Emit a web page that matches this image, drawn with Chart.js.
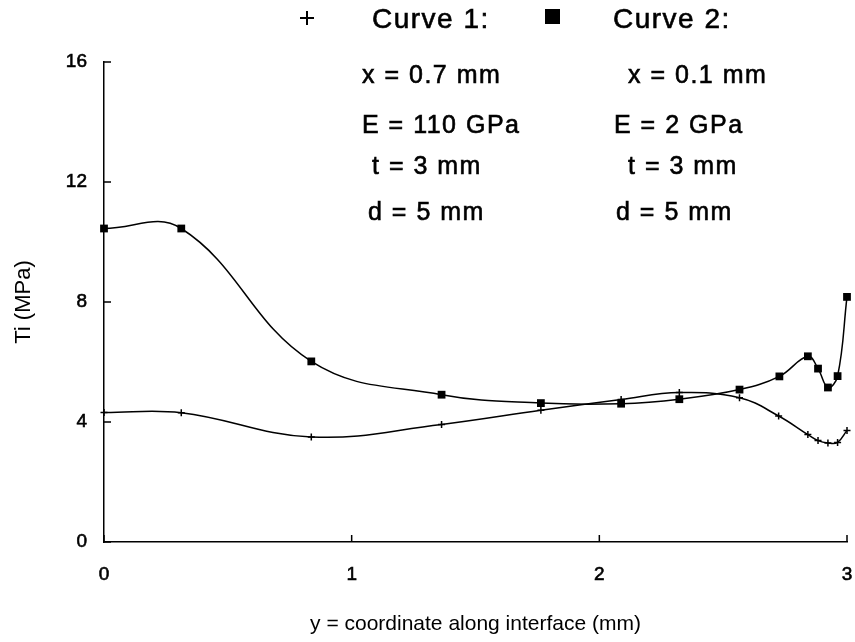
<!DOCTYPE html>
<html>
<head>
<meta charset="utf-8">
<script src="https://cdn.jsdelivr.net/npm/chart.js@4/dist/chart.umd.min.js"></script>
<style>
    body { margin: 0; background: #fff; }
    #wrap { position: relative; width: 855px; height: 642px; font-family: "Liberation Sans", Arial, sans-serif; color: #000; }
    #chart { position: absolute; left: 0; top: 0; }
    .txt { position: absolute; line-height: 1; white-space: nowrap; -webkit-text-stroke: 0.6px #000; }
    .head { font-size: 28px; letter-spacing: 1.5px; }
    .param { font-size: 25px; letter-spacing: 1.5px; }
    .plus-h { position: absolute; left: 300px; top: 17px; width: 14px; height: 1.5px; background: #000; }
    .plus-v { position: absolute; left: 306px; top: 11px; width: 1.5px; height: 14px; background: #000; }
    .sq { position: absolute; left: 545px; top: 9px; width: 15px; height: 15px; background: #000; }
</style>
</head>
<body>
<div id="wrap">
    <canvas id="chart" width="855" height="642"></canvas>
    <div class="plus-h"></div><div class="plus-v"></div>
    <div class="txt head" style="left:372px; top:5px;">Curve 1:</div>
    <div class="sq"></div>
    <div class="txt head" style="left:613px; top:5px;">Curve 2:</div>

    <div class="txt param" style="left:362px; top:62px;">x = 0.7 mm</div>
    <div class="txt param" style="left:362px; top:112px;">E = 110 GPa</div>
    <div class="txt param" style="left:372px; top:153px;">t = 3 mm</div>
    <div class="txt param" style="left:368px; top:199px;">d = 5 mm</div>

    <div class="txt param" style="left:628px; top:62px;">x = 0.1 mm</div>
    <div class="txt param" style="left:614px; top:112px;">E = 2 GPa</div>
    <div class="txt param" style="left:628px; top:153px;">t = 3 mm</div>
    <div class="txt param" style="left:616px; top:199px;">d = 5 mm</div>
</div>
<script>
// values
const curve1X = [0, 0.312, 0.837, 1.363, 1.764, 2.088, 2.323, 2.566, 2.724, 2.842, 2.883, 2.923, 2.962, 3.0];
const curve1Y = [4.32, 4.31, 3.5, 3.92, 4.39, 4.75, 4.98, 4.81, 4.2, 3.58, 3.38, 3.3, 3.32, 3.72];

const curve2X = [0, 0.312, 0.837, 1.363, 1.764, 2.088, 2.323, 2.566, 2.727, 2.842, 2.883, 2.923, 2.962, 3.0];
const curve2Y = [10.45, 10.45, 6.02, 4.91, 4.63, 4.61, 4.76, 5.08, 5.52, 6.19, 5.78, 5.15, 5.53, 8.17];

const xTicks = [0, 1, 2, 3];
const yTicks = [0, 4, 8, 12, 16];

const fontFamily = '"Liberation Sans", Arial, sans-serif';

function toPoints(xs, ys) {
    return xs.map((x, i) => ({ x: x, y: ys[i] }));
}

// small tick marks pointing into the plot
const innerTicks = {
    id: 'innerTicks',
    afterDraw(chart) {
        const ctx = chart.ctx;
        const xs = chart.scales.x;
        const ys = chart.scales.y;
        const area = chart.chartArea;
        ctx.save();
        ctx.strokeStyle = '#000';
        ctx.lineWidth = 1.5;
        ctx.beginPath();
        yTicks.forEach(v => {
            const py = ys.getPixelForValue(v);
            ctx.moveTo(area.left, py);
            ctx.lineTo(area.left + 7, py);
        });
        xTicks.forEach(v => {
            const px = xs.getPixelForValue(v);
            ctx.moveTo(px, area.bottom);
            ctx.lineTo(px, area.bottom - 7);
        });
        ctx.stroke();
        ctx.restore();
    }
};

new Chart(document.getElementById('chart').getContext('2d'), {
    type: 'line',
    data: {
        datasets: [
            {
                label: 'Curve 1',
                data: toPoints(curve1X, curve1Y),
                borderColor: '#000',
                borderWidth: 1.5,
                tension: 0.4,
                pointStyle: 'cross',
                pointRadius: 3.5,
                pointBorderWidth: 1.5,
                pointBorderColor: '#000',
                clip: false
            },
            {
                label: 'Curve 2',
                data: toPoints(curve2X, curve2Y),
                borderColor: '#000',
                borderWidth: 1.5,
                tension: 0.4,
                pointStyle: 'rect',
                pointRadius: 5.5,
                pointBackgroundColor: '#000',
                pointBorderColor: '#000',
                pointBorderWidth: 0,
                clip: false
            }
        ]
    },
    options: {
        responsive: false,
        animation: false,
        devicePixelRatio: 1,
        layout: { autoPadding: false, padding: { top: 62, right: 8, left: 0, bottom: 0 } },
        plugins: {
            legend: { display: false },
            tooltip: { enabled: false }
        },
        scales: {
            x: {
                type: 'linear',
                min: 0,
                max: 3,
                afterBuildTicks: s => { s.ticks = xTicks.map(v => ({ value: v })); },
                afterFit: s => { s.height = 100; s.paddingLeft = 0; s.paddingRight = 0; },
                grid: { display: true, drawOnChartArea: false, drawTicks: false },
                border: { color: '#000', width: 1.5 },
                ticks: {
                    color: '#000', padding: 21, maxRotation: 0,
                    textStrokeColor: '#000', textStrokeWidth: 0.6,
                    font: { family: fontFamily, size: 19 }
                },
                title: {
                    display: true,
                    text: 'y = coordinate along interface (mm)',
                    color: '#000',
                    font: { family: fontFamily, size: 21 },
                    padding: { top: 4, bottom: 5 }
                }
            },
            y: {
                min: 0,
                max: 16,
                afterBuildTicks: s => { s.ticks = yTicks.map(v => ({ value: v })); },
                afterFit: s => { s.width = 104; s.paddingTop = 0; s.paddingBottom = 0; },
                grid: { display: true, drawOnChartArea: false, drawTicks: false },
                border: { color: '#000', width: 1.5 },
                ticks: {
                    color: '#000', padding: 17,
                    textStrokeColor: '#000', textStrokeWidth: 0.6,
                    font: { family: fontFamily, size: 19 }
                },
                title: {
                    display: true,
                    text: 'Ti (MPa)',
                    color: '#000',
                    font: { family: fontFamily, size: 22 },
                    padding: { top: 11, bottom: 4 }
                }
            }
        }
    },
    plugins: [innerTicks]
});
</script>
</body>
</html>
